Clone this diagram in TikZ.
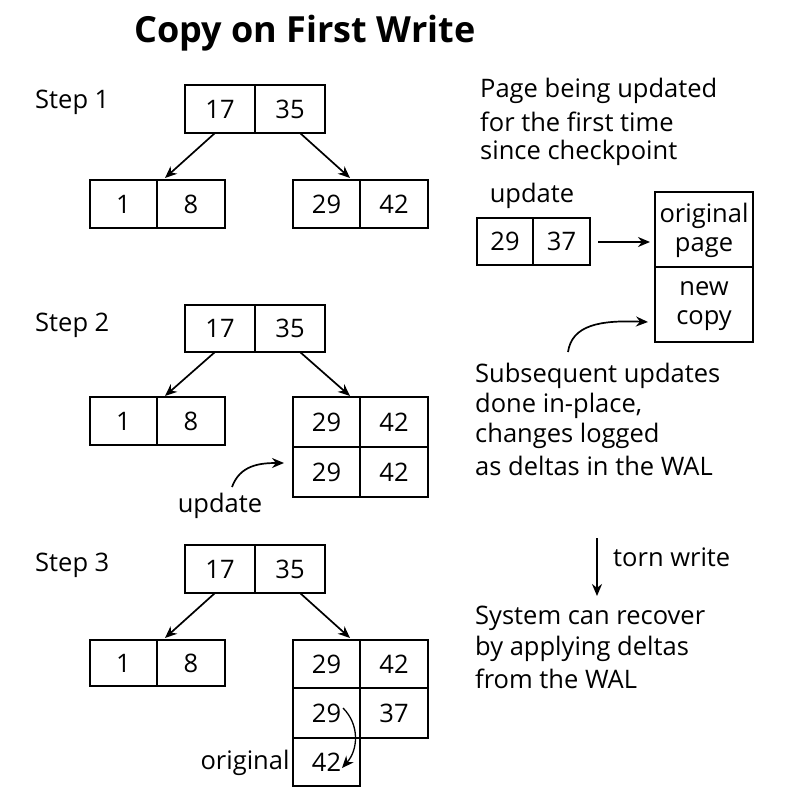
\documentclass[tikz,border=0pt]{standalone}
\usepackage{fontspec}
\setmainfont{Open Sans}
\usetikzlibrary{arrows.meta}
\begin{document}
\begin{tikzpicture}[x=1pt,y=-1pt,
  txt/.style={font=\fontsize{25.5}{29}\selectfont,inner sep=0pt},
  arr/.style={-{Stealth[length=12pt,width=10pt]},line width=1.7pt}]
\useasboundingbox (0,0) rectangle (800,800);
\node[font=\bfseries\fontsize{36}{40}\selectfont] (title) at (305,33) {Copy on First Write};
\newcommand\cellbox[6]{\draw[line width=1.5pt] (#2,#3) rectangle (#4,#5); \node[txt] (#1) at ({(#2+#4)/2},{(#3+#5)/2}) {#6};}
% Step 1
\node[txt,anchor=west] (s1) at (35,102) {Step 1};
\cellbox{a1}{185}{85}{255}{133}{17}\cellbox{a2}{255}{85}{325}{133}{35}
\cellbox{b1}{90}{180}{157}{228}{1}\cellbox{b2}{157}{180}{225}{228}{8}
\cellbox{c1}{293}{180}{360}{228}{29}\cellbox{c2}{360}{180}{428}{228}{42}
\coordinate (p1) at (215,133); \coordinate (q1) at (165,178);
\coordinate (p2) at (300,133); \coordinate (q2) at (350,178);
\draw[arr] (p1)--(q1); \draw[arr] (p2)--(q2);
% Step 2
\node[txt,anchor=west] (s2) at (35,325) {Step 2};
\cellbox{d1}{185}{305}{255}{352}{17}\cellbox{d2}{255}{305}{325}{352}{35}
\cellbox{e1}{90}{397}{157}{445}{1}\cellbox{e2}{157}{397}{225}{445}{8}
\cellbox{f1}{293}{397}{360}{447}{29}\cellbox{f2}{360}{397}{428}{447}{42}
\cellbox{f3}{293}{447}{360}{497}{29}\cellbox{f4}{360}{447}{428}{497}{42}
\coordinate (p3) at (215,352); \coordinate (q3) at (165,396);
\coordinate (p4) at (300,352); \coordinate (q4) at (350,396);
\draw[arr] (p3)--(q3); \draw[arr] (p4)--(q4);
\node[txt] (upd2) at (220,506) {update};
\coordinate (u1) at (232,487); \coordinate (u2) at (284,463);
\draw[arr] (u1) .. controls (240,465) and (260,463) .. (u2);
% Step 3
\node[txt,anchor=west] (s3) at (35,565) {Step 3};
\cellbox{g1}{185}{545}{255}{593}{17}\cellbox{g2}{255}{545}{325}{593}{35}
\cellbox{h1}{90}{640}{157}{686}{1}\cellbox{h2}{157}{640}{225}{686}{8}
\cellbox{i1}{293}{640}{360}{688}{29}\cellbox{i2}{360}{640}{428}{688}{42}
\cellbox{i3}{293}{688}{360}{738}{29}\cellbox{i4}{360}{688}{428}{738}{37}
\cellbox{i5}{293}{738}{360}{786}{42}
\coordinate (p5) at (215,593); \coordinate (q5) at (165,638);
\coordinate (p6) at (300,593); \coordinate (q6) at (350,638);
\draw[arr] (p5)--(q5); \draw[arr] (p6)--(q6);
\node[txt] (orig) at (245,763) {original};
\coordinate (o1) at (343,708); \coordinate (o2) at (342,768);
\draw[arr,line width=1.3pt] (o1) .. controls (360,725) and (358,750) .. (o2);
% right side
\node[txt,anchor=west] (t1) at (480,91) {Page being updated};
\node[txt,anchor=west] (t2) at (480,122) {for the first time};
\node[txt,anchor=west] (t3) at (480,153) {since checkpoint};
\node[txt] (upd1) at (532,196) {update};
\cellbox{j1}{477}{218}{533}{265}{29}\cellbox{j2}{533}{218}{590}{265}{37}
\coordinate (r1) at (598,242); \coordinate (r2) at (650,242);
\draw[arr] (r1)--(r2);
\draw[line width=1.5pt] (655,192) rectangle (753,267);
\node[txt,align=center] (op) at (704,230) {original\\page};
\draw[line width=1.5pt] (655,267) rectangle (753,342);
\node[txt,align=center] (nc) at (704,306) {new\\copy};
\coordinate (v1) at (568,352); \coordinate (v2) at (648,322);
\draw[arr] (v1) .. controls (572,325) and (600,320) .. (v2);
\node[txt,anchor=west] (w1) at (475,376) {Subsequent updates};
\node[txt,anchor=west] (w2) at (475,406) {done in-place,};
\node[txt,anchor=west] (w3) at (475,436) {changes logged};
\node[txt,anchor=west] (w4) at (475,466) {as deltas in the WAL};
\coordinate (x1) at (597,538); \coordinate (x2) at (597,596);
\draw[arr] (x1)--(x2);
\node[txt,anchor=west] (tw) at (613,557) {torn write};
\node[txt,anchor=west] (y1) at (475,618) {System can recover};
\node[txt,anchor=west] (y2) at (475,649) {by applying deltas};
\node[txt,anchor=west] (y3) at (475,679) {from the WAL};
\end{tikzpicture}
\end{document}
